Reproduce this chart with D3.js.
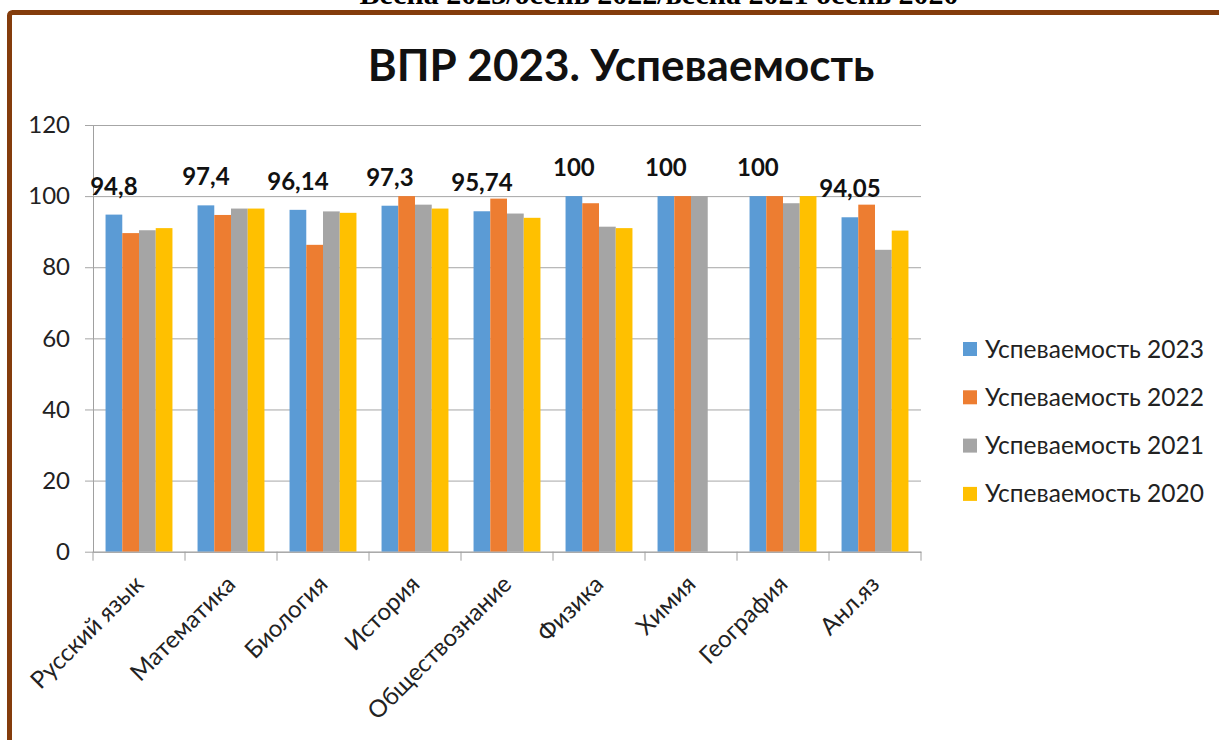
<!DOCTYPE html>
<html><head><meta charset="utf-8">
<script src="https://cdn.jsdelivr.net/npm/d3@7"></script>
<style>html,body{margin:0;padding:0;background:#fff;overflow:hidden}</style>
</head><body>
<svg id="c" width="1219" height="740"></svg>
<script>
const categories = ["Русский язык","Математика","Биология","История","Обществознание","Физика","Химия","География","Анл.яз"];
const seriesNames = ["Успеваемость 2023","Успеваемость 2022","Успеваемость 2021","Успеваемость 2020"];
const v2023 = [94.8, 97.4, 96.14, 97.3, 95.74, 100, 100, 100, 94.05];
const v2022 = [89.6, 94.7, 86.3, 100, 99.3, 98.0, 100, 100, 97.6];
const v2021 = [90.4, 96.5, 95.7, 97.6, 95.1, 91.4, 100, 98.0, 84.9];
const v2020 = [91.0, 96.5, 95.3, 96.5, 93.9, 91.0, null, 100, 90.3];
const yTicks = [0, 20, 40, 60, 80, 100, 120];
const colors = ["#5B9BD5", "#ED7D31", "#A5A5A5", "#FFC000"];
const title = "ВПР 2023. Успеваемость";
const header = "Весна 2023/осень 2022/весна 2021 осень 2020";

const seriesVals = [v2023, v2022, v2021, v2020];
const FONT = "Lato, 'Open Sans', sans-serif";
const svg = d3.select("#c");

// header (clipped at top, as in the reference)
svg.append("text").attr("x", 659).attr("y", 4).attr("text-anchor", "middle")
  .attr("font-family", "'Liberation Serif', 'Times New Roman', serif").attr("font-weight", "bold")
  .attr("font-size", 30).attr("fill", "#000").text(header);

// frame
svg.append("rect").attr("x", 9.5).attr("y", 12.5).attr("width", 1400).attr("height", 900)
  .attr("rx", 3).attr("fill", "#fff").attr("stroke", "#843C0C").attr("stroke-width", 5);

const m = {left: 93, right: 921, top: 125, bottom: 551.7};
const x0 = d3.scaleBand().domain(categories).range([m.left, m.right]).paddingInner(0).paddingOuter(0);
const y = d3.scaleLinear().domain([0, 120]).range([m.bottom, m.top]);
const gap = x0.bandwidth() * 1.5 / 5.5;
const x1 = d3.scaleBand().domain(d3.range(4)).range([gap / 2, x0.bandwidth() - gap / 2]).padding(0);

// gridlines + y axis
const yAxis = d3.axisLeft(y).tickValues(yTicks).tickSize(-(m.right - m.left)).tickSizeOuter(0).tickPadding(14);
const gy = svg.append("g").attr("transform", `translate(${m.left},0)`).call(yAxis);
gy.select(".domain").attr("stroke", "#A0A0A0");
gy.selectAll(".tick line").attr("stroke", "#A6A6A6").attr("x1", -8);
gy.selectAll(".tick text").attr("font-family", FONT).attr("font-size", 24).attr("fill", "#222").attr("x", -23);

// bars
const data = categories.map((c, i) => ({c, vals: seriesVals.map(s => s[i])}));
const groups = svg.append("g").selectAll("g").data(data).join("g")
  .attr("transform", d => `translate(${x0(d.c)},0)`);
groups.selectAll("rect").data(d => d.vals.map((v, k) => ({v, k})).filter(e => e.v != null))
  .join("rect")
  .attr("x", e => x1(e.k)).attr("width", x1.bandwidth())
  .attr("y", e => y(e.v)).attr("height", e => y(0) - y(e.v))
  .attr("fill", e => colors[e.k]);

// x axis
const xAxis = d3.axisBottom(x0).tickSize(0).tickFormat("");
const gx = svg.append("g").attr("transform", `translate(0,${m.bottom})`).call(xAxis);
gx.select(".domain").attr("stroke", "#A0A0A0");
const bounds = categories.map(c => x0(c)).concat([m.right]);
svg.append("g").selectAll("line").data(bounds).join("line")
  .attr("x1", d => d).attr("x2", d => d).attr("y1", m.bottom).attr("y2", m.bottom + 9)
  .attr("stroke", "#A0A0A0");
svg.append("g").selectAll("text").data(categories).join("text")
  .attr("transform", c => `translate(${x0(c) + x0.bandwidth() / 2 + 6},${m.bottom + 34}) rotate(-45)`)
  .attr("text-anchor", "end").attr("font-family", FONT).attr("font-size", 24).attr("fill", "#222")
  .text(c => c);

// data labels (2023 series)
svg.append("g").selectAll("text").data(categories).join("text")
  .attr("x", (c, i) => x0(c) + x1(0) + x1.bandwidth() / 2)
  .attr("y", (c, i) => y(v2023[i]) - 20)
  .attr("text-anchor", "middle").attr("font-family", FONT).attr("font-weight", "bold")
  .attr("font-size", 24).attr("fill", "#111")
  .text((c, i) => String(v2023[i]).replace(".", ","));

// title
svg.append("text").attr("x", 621).attr("y", 81).attr("text-anchor", "middle")
  .attr("font-family", FONT).attr("font-weight", "bold").attr("font-size", 44).attr("fill", "#111")
  .text(title);

// legend
const lg = svg.append("g").selectAll("g").data(seriesNames).join("g")
  .attr("transform", (d, i) => `translate(963,${349 + i * 48.3})`);
lg.append("rect").attr("x", 0).attr("y", -7).attr("width", 14).attr("height", 14).attr("fill", (d, i) => colors[i]);
lg.append("text").attr("x", 22).attr("y", 0).attr("dy", "0.35em")
  .attr("font-family", FONT).attr("font-size", 24.5).attr("fill", "#222").text(d => d);
</script>
</body></html>
